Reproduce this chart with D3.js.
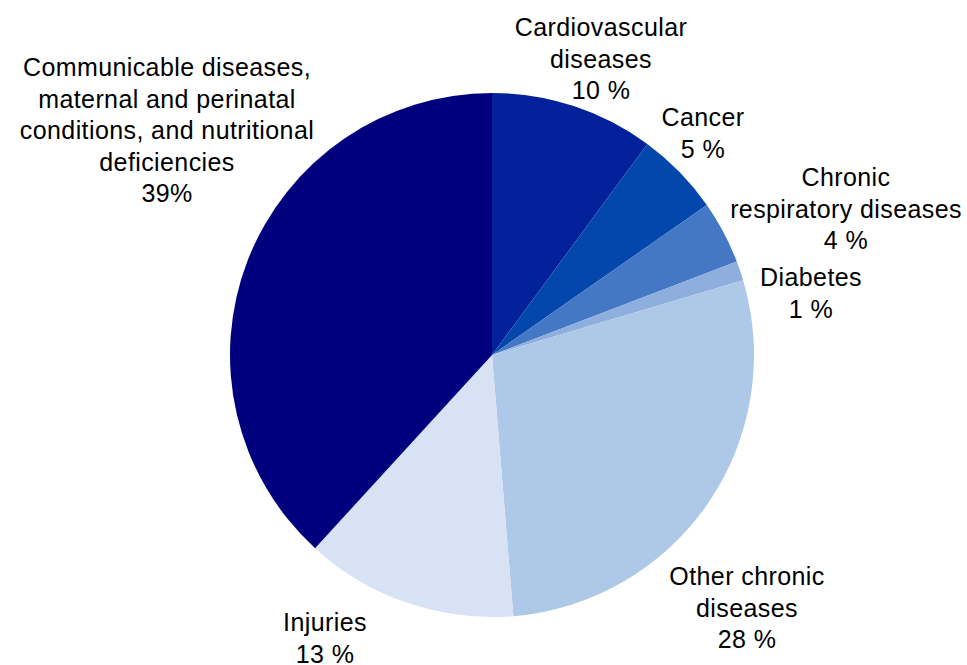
<!DOCTYPE html>
<html><head><meta charset="utf-8">
<script src="https://cdn.jsdelivr.net/npm/d3@7"></script>
<style>
html,body{margin:0;padding:0;background:#fff;}
svg text{font-family:"Liberation Sans Narrow","Arial Narrow","Liberation Sans",sans-serif;fill:#000;}
</style></head>
<body><svg id="chart" width="967" height="665"></svg>
<script>
const categories = [
  "Cardiovascular diseases",
  "Cancer",
  "Chronic respiratory diseases",
  "Diabetes",
  "Other chronic diseases",
  "Injuries",
  "Communicable diseases, maternal and perinatal conditions, and nutritional deficiencies"
];
// slice sizes (labels show rounded percentages)
const values = [10.1, 5.2, 3.9, 1.2, 28.3, 13.1, 38.2];
const labelLines = [
  ["Cardiovascular", "diseases", "10 %"],
  ["Cancer", "5 %"],
  ["Chronic", "respiratory diseases", "4 %"],
  ["Diabetes", "1 %"],
  ["Other chronic", "diseases", "28 %"],
  ["Injuries", "13 %"],
  ["Communicable diseases,", "maternal and perinatal", "conditions, and nutritional", "deficiencies", "39%"]
];
const colors = ["#02219a", "#0346ac", "#4478c4", "#8eaede", "#aec8e8", "#d7e2f4", "#00007f"];
// layout: label block anchor (center x, first-line baseline y)
const labelAnchors = [[601, 36], [703, 126], [846, 186], [811, 286], [747, 585], [325, 631], [167, 76]];

const svg = d3.select("#chart");
const cx = 492, cy = 355, r = 262;
const pie = d3.pie().sort(null).value(d => d)(values);
const arc = d3.arc().innerRadius(0).outerRadius(r);
const g = svg.append("g").attr("transform", `translate(${cx},${cy})`);
g.selectAll("path").data(pie).join("path")
  .attr("d", arc)
  .attr("fill", (d, i) => colors[i]);

const lh = 31.5;
const lbl = svg.append("g");
labelLines.forEach((lines, i) => {
  const t = lbl.append("text")
    .attr("x", labelAnchors[i][0])
    .attr("y", labelAnchors[i][1])
    .attr("text-anchor", "middle")
    .attr("font-size", 25)
    .attr("letter-spacing", 0.4);
  lines.forEach((s, j) => {
    t.append("tspan").attr("x", labelAnchors[i][0]).attr("dy", j === 0 ? 0 : lh).text(s);
  });
});
</script></body></html>
